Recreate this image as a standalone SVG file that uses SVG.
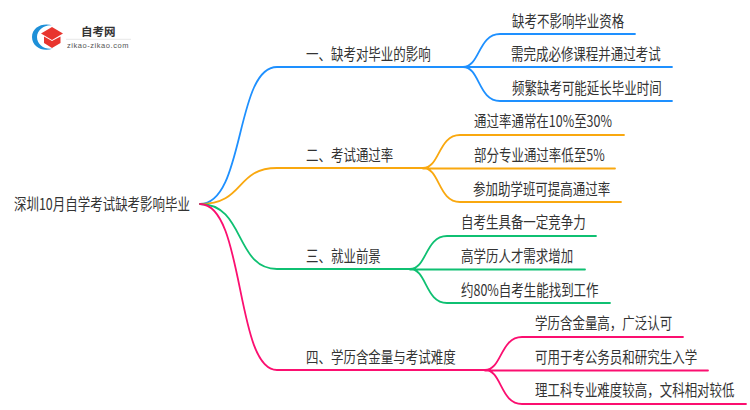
<svg xmlns="http://www.w3.org/2000/svg" width="750" height="410" viewBox="0 0 750 410">
<style>
text{font-family:"Noto Sans CJK SC","Liberation Sans",sans-serif;font-size:15.500px;fill:#333}
.c{fill:none;stroke-width:1.800;stroke-linecap:round}
.b{stroke:#1E90FF}.o{stroke:#F9A80F}.g{stroke:#0FC072}.p{stroke:#FB0F70}
</style>
<rect width="750" height="410" fill="#fff"/>
<g id="logo">
<path d="M53 25.500C43 22 32 27 32 37C32 47 43 52.500 53 48.500C45 50 37 45 37 37C37 30 45 24 53 25.500Z" fill="#1E90D8"/>
<path d="M52 27L63 33.500L52 40L41 33.500Z" fill="#E8352E"/>
<path d="M44 36.500L52 41L60.500 36.500V43L52 48L44 43Z" fill="#E8352E"/>
<text x="81" y="36" style="font-size:11.500px;font-weight:700">自考网</text>
<path d="M66 39.300H131" stroke="#ddd" stroke-width=".7"/>
<text x="67" y="48" style="font-size:7.500px;letter-spacing:.55px;font-family:'Liberation Sans',sans-serif;fill:#555">zikao-zikao.com</text>
</g>
<g id="connectors">
<path class="c b" d="M200 204C245 204 235 67 277 67H465"/>
<path class="c b" d="M463 67C480 67 478 34 500 34H635M463 67H672M463 67C480 67 478 101 500 101H672"/>
<path class="c o" d="M200 204C245 204 235 168 277 168H425"/>
<path class="c o" d="M423 168C440 168 438 135 460 135H624M423 168.500H615M423 168C440 168 438 202 460 202H621"/>
<path class="c g" d="M200 204C245 204 235 269 277 269H412"/>
<path class="c g" d="M410 269C427 269 425 236 447 236H596M410 269.500H585M410 269C427 269 425 303 447 303H610"/>
<path class="c p" d="M200 204C245 204 235 370 277 370H487"/>
<path class="c p" d="M485 370C502 370 500 337 522 337H683M485 370.500H708M485 370C502 370 500 404 522 404H746"/>
</g>
<g id="root"><text transform="translate(14 210) scale(.805 1)">深圳10月自学考试缺考影响毕业</text></g>
<g id="n1"><text transform="translate(306 59.500) scale(.805 1)">一、缺考对毕业的影响</text></g>
<g id="n1a"><text transform="translate(512 26.500) scale(.805 1)">缺考不影响毕业资格</text></g>
<g id="n1b"><text transform="translate(511 60) scale(.805 1)">需完成必修课程并通过考试</text></g>
<g id="n1c"><text transform="translate(512 94) scale(.805 1)">频繁缺考可能延长毕业时间</text></g>
<g id="n2"><text transform="translate(306 160.500) scale(.805 1)">二、考试通过率</text></g>
<g id="n2a"><text transform="translate(474 127) scale(.805 1)">通过率通常在10%至30%</text></g>
<g id="n2b"><text transform="translate(474 160.500) scale(.805 1)">部分专业通过率低至5%</text></g>
<g id="n2c"><text transform="translate(473 194.500) scale(.805 1)">参加助学班可提高通过率</text></g>
<g id="n3"><text transform="translate(306 261.500) scale(.805 1)">三、就业前景</text></g>
<g id="n3a"><text transform="translate(461 228) scale(.805 1)">自考生具备一定竞争力</text></g>
<g id="n3b"><text transform="translate(461 261.500) scale(.805 1)">高学历人才需求增加</text></g>
<g id="n3c"><text transform="translate(461 295.500) scale(.805 1)">约80%自考生能找到工作</text></g>
<g id="n4"><text transform="translate(306 362.500) scale(.805 1)">四、学历含金量与考试难度</text></g>
<g id="n4a"><text transform="translate(535 328.500) scale(.805 1)">学历含金量高，广泛认可</text></g>
<g id="n4b"><text transform="translate(535 362.500) scale(.805 1)">可用于考公务员和研究生入学</text></g>
<g id="n4c"><text transform="translate(535 395.500) scale(.805 1)">理工科专业难度较高，文科相对较低</text></g>
</svg>
